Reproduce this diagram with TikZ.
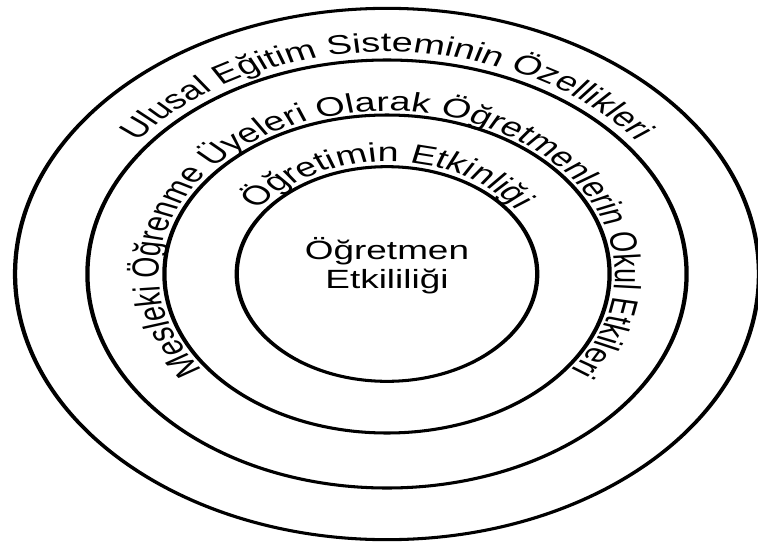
\documentclass[tikz,border=0pt]{standalone}
\usepackage{fontspec}
\setmainfont{Liberation Sans}
\usetikzlibrary{decorations.text}

\newcommand{\bandfont}{\fontsize{23}{27}\selectfont}
\newcommand{\corefont}{\fontsize{22.5}{25}\selectfont}

\tikzset{
  ring/.style={draw=black, line width=2.6pt},
  bandtext/.style={decorate, decoration={text along path, text align=center,
                   text={|\bandfont|#1}}},
  core/.style={font=\corefont, align=center, text=black},
}

\begin{document}
\begin{tikzpicture}[x=1cm,y=1cm]

% Page ------------------------------------------------------------------------
\useasboundingbox (-11.61,-8.19) rectangle (11.13,8.22);

\begin{scope}[transform canvas={xscale=1.4}]
\coordinate (ctr) at (0,0);

% Rings -----------------------------------------------------------------------
\draw[ring] (ctr) circle[radius=7.97];
\draw[ring] (ctr) circle[radius=6.42];
\draw[ring] (ctr) circle[radius=4.77];
\draw[ring] (ctr) circle[radius=3.22];

% Ring labels -----------------------------------------------------------------
\path[bandtext={Ulusal Eğitim Sisteminin Özellikleri}]
  ([shift={(170:6.66)}]ctr) arc[start angle=170, end angle=10, radius=6.66];
\path[bandtext={Mesleki Öğrenme Üyeleri Olarak Öğretmenlerin Okul Etkileri}]
  ([shift={(225:4.89)}]ctr) arc[start angle=225, end angle=-45, radius=4.89];
\path[bandtext={Öğretimin Etkinliği}]
  ([shift={(170:3.37)}]ctr) arc[start angle=170, end angle=10, radius=3.37];

% Core ------------------------------------------------------------------------
\node[core] (core) at ([yshift=2.5mm]ctr) {Öğretmen\\Etkililiği};
\end{scope}

\end{tikzpicture}
\end{document}
